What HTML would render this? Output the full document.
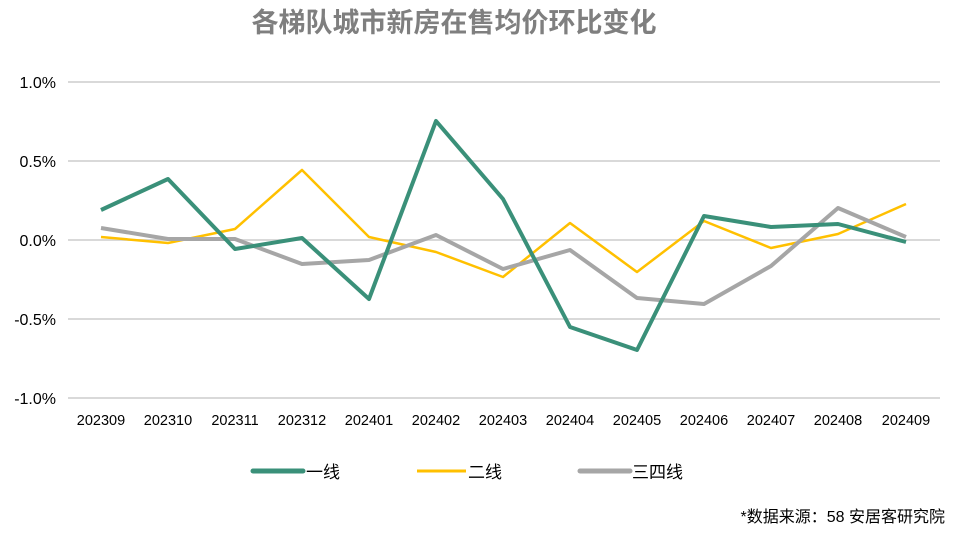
<!DOCTYPE html>
<html><head><meta charset="utf-8"><style>
body{margin:0;background:#fff;width:960px;height:538px;overflow:hidden}
svg text{font-family:"Liberation Sans","Noto Sans CJK SC",sans-serif}
</style></head><body>
<svg width="960" height="538" xmlns="http://www.w3.org/2000/svg">
<text x="454" y="32" text-anchor="middle" font-size="27" font-weight="bold" fill="#7f7f7f">各梯队城市新房在售均价环比变化</text>
<g stroke="#d9d9d9" stroke-width="2">
<line x1="68" y1="82" x2="940" y2="82"/><line x1="68" y1="161" x2="940" y2="161"/>
<line x1="68" y1="240" x2="940" y2="240"/><line x1="68" y1="319" x2="940" y2="319"/>
<line x1="68" y1="398" x2="940" y2="398"/></g>
<g font-size="16" fill="#000" text-anchor="end">
<text x="56" y="88">1.0%</text><text x="56" y="167">0.5%</text><text x="56" y="246">0.0%</text>
<text x="56" y="325">-0.5%</text><text x="56" y="404">-1.0%</text></g>
<g font-size="14.5" fill="#000" text-anchor="middle">
<text x="101" y="425">202309</text><text x="168" y="425">202310</text><text x="235" y="425">202311</text>
<text x="302" y="425">202312</text><text x="369" y="425">202401</text><text x="436" y="425">202402</text>
<text x="503" y="425">202403</text><text x="570" y="425">202404</text><text x="637" y="425">202405</text>
<text x="704" y="425">202406</text><text x="771" y="425">202407</text><text x="838" y="425">202408</text>
<text x="906" y="425">202409</text></g>
<polyline fill="none" stroke="#ffc000" stroke-width="2.5" stroke-linejoin="round" points="101,237 168,243 235,229 302,170 369,237 436,252 503,277 570,223 637,272 704,221 771,248 838,234 906,204"/>
<polyline fill="none" stroke="#a6a6a6" stroke-width="4" stroke-linejoin="round" points="101,228 168,239 235,239 302,264 369,260 436,235 503,269 570,250 637,298 704,304 771,266 838,208 906,237"/>
<polyline fill="none" stroke="#3a9079" stroke-width="4" stroke-linejoin="round" points="101,210 168,179 235,249 302,238 369,299 436,121 503,199 570,327 637,350 704,216 771,227 838,224 906,242"/>
<line x1="253" y1="471" x2="303" y2="471" stroke="#3a9079" stroke-width="5" stroke-linecap="round"/>
<text x="306" y="478" font-size="17">一线</text>
<line x1="417" y1="471" x2="466" y2="471" stroke="#ffc000" stroke-width="3"/>
<text x="468" y="478" font-size="17">二线</text>
<line x1="580" y1="471" x2="630" y2="471" stroke="#a6a6a6" stroke-width="5" stroke-linecap="round"/>
<text x="632" y="478" font-size="17">三四线</text>
<text x="945" y="522" text-anchor="end" font-size="16">*数据来源：58 安居客研究院</text>
</svg>
</body></html>
